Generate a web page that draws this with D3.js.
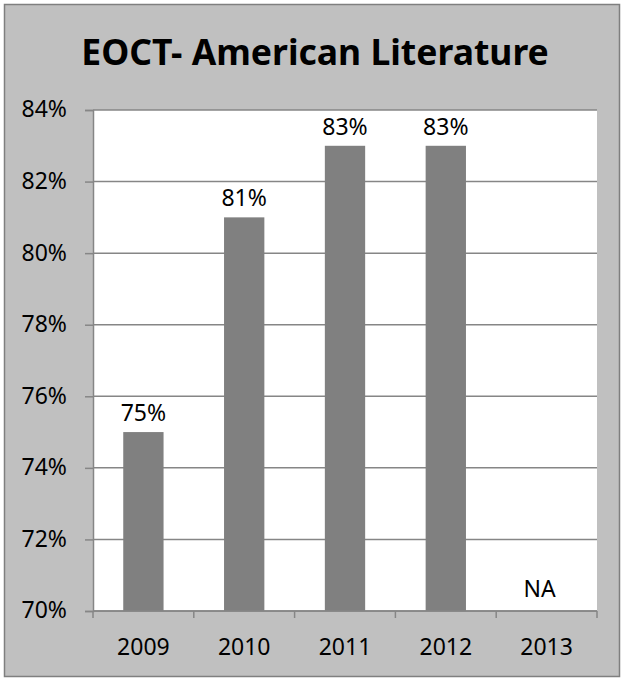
<!DOCTYPE html>
<meta charset="utf-8">
<script src="https://d3js.org/d3.v7.min.js"></script>
<style>
  body { margin: 0; background: #fff; }
  text { font-family: "Noto Sans", "Open Sans", sans-serif; fill: #000; }
</style>
<div id="chart"></div>
<script>
// data
var years = ["2009", "2010", "2011", "2012", "2013"];
var scores = [75, 81, 83, 83, null];   // 2013 has no value -> NA
var yTicks = [70, 72, 74, 76, 78, 80, 82, 84];
var chartTitle = "EOCT- American Literature";

var W = 622, H = 679;
var plot = {left: 93, top: 110, right: 597, bottom: 611};

var svg = d3.select("#chart")
  .append("svg")
    .attr("width", W)
    .attr("height", H);

// outer chart area
svg.append("rect")
  .attr("x", 4.5).attr("y", 4.5)
  .attr("width", 615).attr("height", 672)
  .style("fill", "#c0c0c0")
  .style("stroke", "#7f7f7f")
  .style("stroke-width", 1.5);

// plot area
svg.append("rect")
  .attr("x", plot.left).attr("y", plot.top)
  .attr("width", plot.right - plot.left).attr("height", plot.bottom - plot.top)
  .style("fill", "#fff");

var x = d3.scaleBand()
  .domain(years)
  .range([plot.left, plot.right])
  .paddingInner(0.6)
  .paddingOuter(0.3);

var xBand = d3.scaleBand()
  .domain(years)
  .range([plot.left, plot.right]);

var y = d3.scaleLinear()
  .domain([70, 84])
  .range([plot.bottom, plot.top]);

// gridlines
svg.selectAll(".grid")
  .data(yTicks)
  .enter()
  .append("line")
    .attr("x1", plot.left).attr("x2", plot.right)
    .attr("y1", function(d) { return y(d); })
    .attr("y2", function(d) { return y(d); })
    .style("stroke", "#868686")
    .style("stroke-width", 1.5);

// y axis
var yAxis = svg.append("g")
  .attr("transform", "translate(" + plot.left + ",0)")
  .call(d3.axisLeft(y).tickValues(yTicks).tickSize(8).tickPadding(18)
    .tickFormat(function(d) { return d + "%"; }));
yAxis.selectAll("path, line").style("stroke", "#868686").style("stroke-width", 1.5);
yAxis.selectAll("text").style("font-size", "23px").style("fill", "#000")
  .attr("dy", "0.3em");

// bars
var barData = years.map(function(d, i) { return {year: d, value: scores[i]}; });

svg.selectAll(".bar")
  .data(barData.filter(function(d) { return d.value != null; }))
  .enter()
  .append("rect")
    .attr("x", function(d) { return x(d.year); })
    .attr("width", x.bandwidth())
    .attr("y", function(d) { return y(d.value); })
    .attr("height", function(d) { return plot.bottom - y(d.value); })
    .style("fill", "#808080");

// value labels
svg.selectAll(".lbl")
  .data(barData)
  .enter()
  .append("text")
    .attr("x", function(d) { return x(d.year) + x.bandwidth() / 2 + (d.value != null ? 0 : -7); })
    .attr("y", function(d) { return d.value != null ? y(d.value) - 11 : plot.bottom - 14; })
    .style("text-anchor", "middle")
    .style("font-size", "23px")
    .text(function(d) { return d.value != null ? d.value + "%" : "NA"; });

// x axis with ticks on category boundaries
var xAxis = svg.append("g")
  .attr("transform", "translate(0," + plot.bottom + ")");
xAxis.append("line")
  .attr("x1", plot.left).attr("x2", plot.right)
  .style("stroke", "#868686").style("stroke-width", 1.5);
xAxis.selectAll(".tk")
  .data(years.concat(["end"]))
  .enter()
  .append("line")
    .attr("x1", function(d, i) { return plot.left + i * xBand.bandwidth(); })
    .attr("x2", function(d, i) { return plot.left + i * xBand.bandwidth(); })
    .attr("y1", 0).attr("y2", 7)
    .style("stroke", "#868686").style("stroke-width", 1.5);
xAxis.selectAll(".xl")
  .data(years)
  .enter()
  .append("text")
    .attr("x", function(d) { return xBand(d) + xBand.bandwidth() / 2; })
    .attr("y", 44)
    .style("text-anchor", "middle")
    .style("font-size", "23px")
    .text(function(d) { return d; });

// title
svg.append("text")
  .attr("x", 315)
  .attr("y", 65)
  .style("text-anchor", "middle")
  .style("font-size", "35.5px")
  .style("font-weight", "bold")
  .text(chartTitle);
</script>
